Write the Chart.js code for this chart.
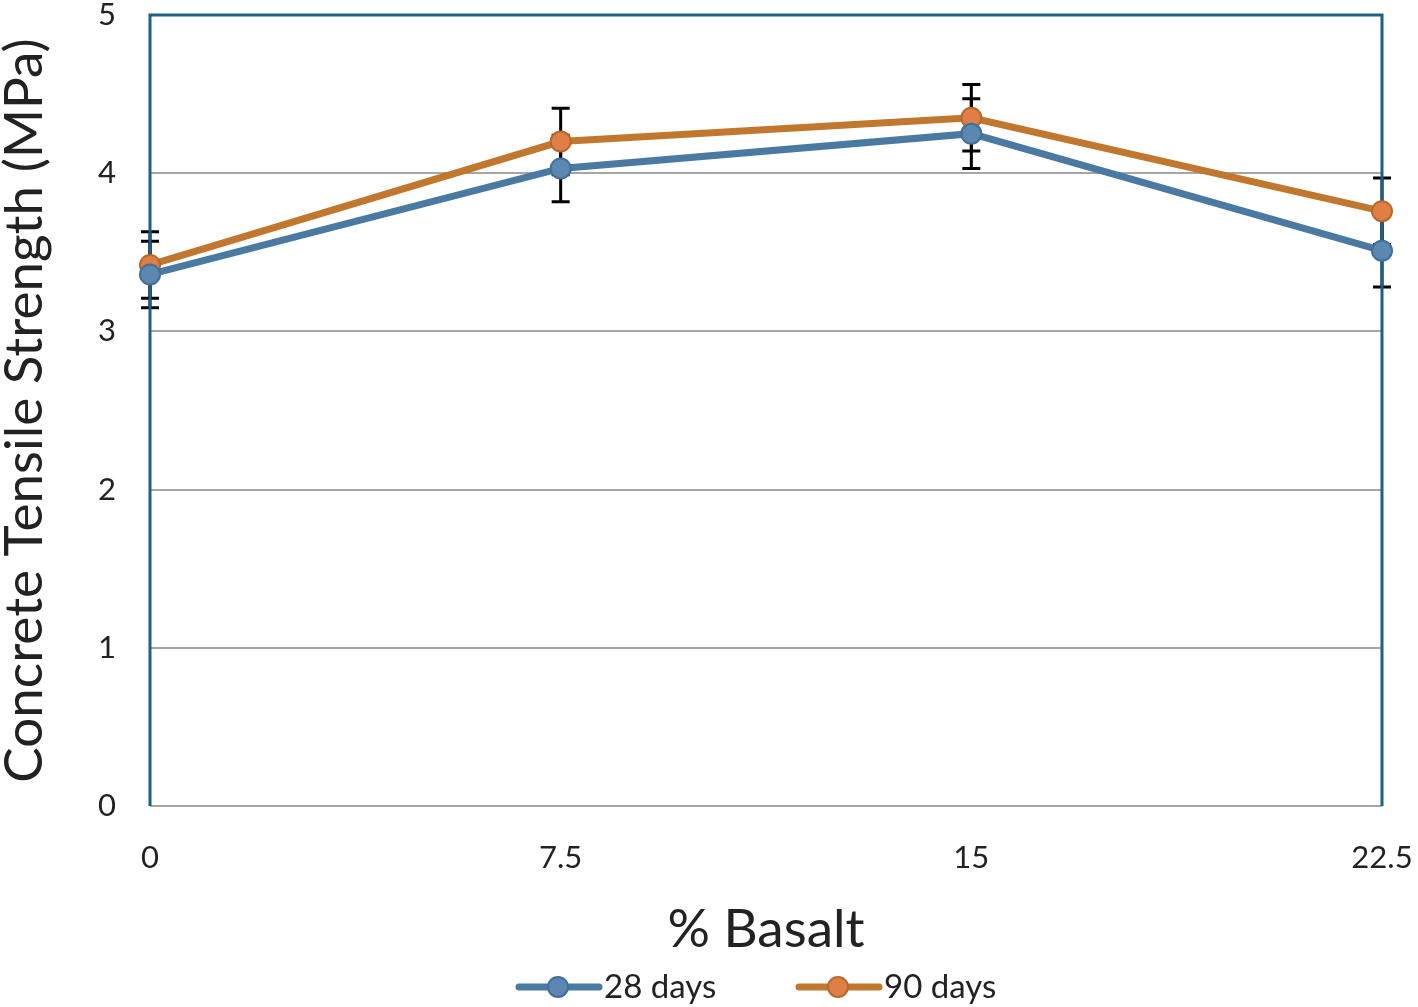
<!DOCTYPE html>
<html lang="en">
<head>
  <meta charset="UTF-8" />
  <title>Concrete Tensile Strength vs % Basalt</title>
  <script src="https://cdn.jsdelivr.net/npm/chart.js"></script>
  <style>
    body { margin: 0; background: #fff; }
    canvas { display: block; }
  </style>
</head>
<body>
  <canvas id="strengthChart" width="1418" height="1007"></canvas>

  <script>
    const basaltLabels = ['0', '7.5', '15', '22.5'];
    const days28 = [3.36, 4.03, 4.25, 3.51];
    const days90 = [3.42, 4.20, 4.35, 3.76];
    const err28 = [0.21, 0.21, 0.22, 0.23];
    const err90 = [0.21, 0.21, 0.21, 0.21];
    const yTicks = [0, 1, 2, 3, 4, 5];

    const FONT = 'Lato, "Open Sans", sans-serif';

    // error bars sit behind the lines
    const errorBars = {
      id: 'errorBars',
      beforeDatasetsDraw(chart) {
        const { ctx, scales: { x, y } } = chart;
        ctx.save();
        ctx.strokeStyle = '#000';
        ctx.lineWidth = 3;
        chart.data.datasets.forEach(ds => {
          ds.data.forEach((v, j) => {
            const px = x.getPixelForValue(j);
            const top = y.getPixelForValue(v + ds.errors[j]);
            const bot = y.getPixelForValue(v - ds.errors[j]);
            ctx.beginPath();
            ctx.moveTo(px, top); ctx.lineTo(px, bot);
            ctx.moveTo(px - 9, top); ctx.lineTo(px + 9, top);
            ctx.moveTo(px - 9, bot); ctx.lineTo(px + 9, bot);
            ctx.stroke();
          });
        });
        ctx.restore();
      }
    };

    // dark blue frame on top, left and right
    const frame = {
      id: 'frame',
      beforeDatasetsDraw(chart) {
        const { ctx, chartArea: a } = chart;
        ctx.save();
        ctx.strokeStyle = '#1f5f86';
        ctx.lineWidth = 3;
        ctx.beginPath();
        ctx.moveTo(a.left, a.bottom);
        ctx.lineTo(a.left, a.top);
        ctx.lineTo(a.right, a.top);
        ctx.lineTo(a.right, a.bottom);
        ctx.stroke();
        ctx.restore();
      }
    };

    const legendLines = {
      id: 'legendLines',
      afterDraw(chart) {
        const { ctx } = chart;
        const yc = 987;
        const starts = [515, 795];
        ctx.save();
        chart.data.datasets.forEach((ds, i) => {
          const x0 = starts[i];
          ctx.strokeStyle = ds.borderColor;
          ctx.lineWidth = 7;
          ctx.lineCap = 'round';
          ctx.beginPath();
          ctx.moveTo(x0 + 4, yc); ctx.lineTo(x0 + 84, yc);
          ctx.stroke();
          ctx.beginPath();
          ctx.arc(x0 + 43, yc, 10, 0, Math.PI * 2);
          ctx.fillStyle = ds.pointBackgroundColor;
          ctx.fill();
          ctx.lineWidth = 2;
          ctx.strokeStyle = ds.pointBorderColor;
          ctx.stroke();
          ctx.fillStyle = '#222';
          ctx.font = '33px ' + FONT;
          ctx.textBaseline = 'middle';
          ctx.fillText(ds.label, x0 + 89, yc);
        });
        ctx.restore();
      }
    };

    new Chart(document.getElementById('strengthChart'), {
      type: 'line',
      data: {
        labels: basaltLabels,
        datasets: [{
          label: '28 days',
          data: days28,
          errors: err28,
          borderColor: '#4a79a2',
          borderWidth: 7,
          pointBackgroundColor: '#5b87b1',
          pointBorderColor: '#41709a',
          pointBorderWidth: 2,
          pointRadius: 10,
          tension: 0,
          clip: false
        }, {
          label: '90 days',
          data: days90,
          errors: err90,
          borderColor: '#c2772e',
          borderWidth: 7,
          pointBackgroundColor: '#e07f45',
          pointBorderColor: '#b8692a',
          pointBorderWidth: 2,
          pointRadius: 10,
          tension: 0,
          clip: false
        }]
      },
      options: {
        responsive: false,
        devicePixelRatio: 1,
        animation: false,
        layout: { padding: { top: 15, right: 36, bottom: 60, left: 0 } },
        plugins: {
          legend: { display: false },
          tooltip: { enabled: false }
        },
        scales: {
          x: {
            offset: false,
            grid: { display: false, drawTicks: false },
            border: { display: false },
            ticks: { color: '#222', font: { family: FONT, size: 31 }, padding: 33, maxRotation: 0 },
            title: { display: true, text: '% Basalt', color: '#222', font: { family: FONT, size: 53 }, padding: { top: 0, bottom: -15 } },
            afterFit: s => { s.height = 141; s.paddingLeft = 0; s.paddingRight = 0; }
          },
          y: {
            min: 0,
            max: 5,
            afterBuildTicks: s => { s.ticks = yTicks.map(v => ({ value: v })); },
            grid: { color: '#a6a6a6', lineWidth: 2, drawTicks: false },
            border: { display: false },
            ticks: { color: '#222', font: { family: FONT, size: 31 }, padding: 34 },
            title: { display: true, text: 'Concrete Tensile Strength (MPa)', color: '#222', font: { family: FONT, size: 53 }, padding: { top: -7, bottom: 0 } },
            afterFit: s => { s.width = 150; s.paddingTop = 0; s.paddingBottom = 0; }
          }
        }
      },
      plugins: [errorBars, frame, legendLines]
    });
  </script>
</body>
</html>
